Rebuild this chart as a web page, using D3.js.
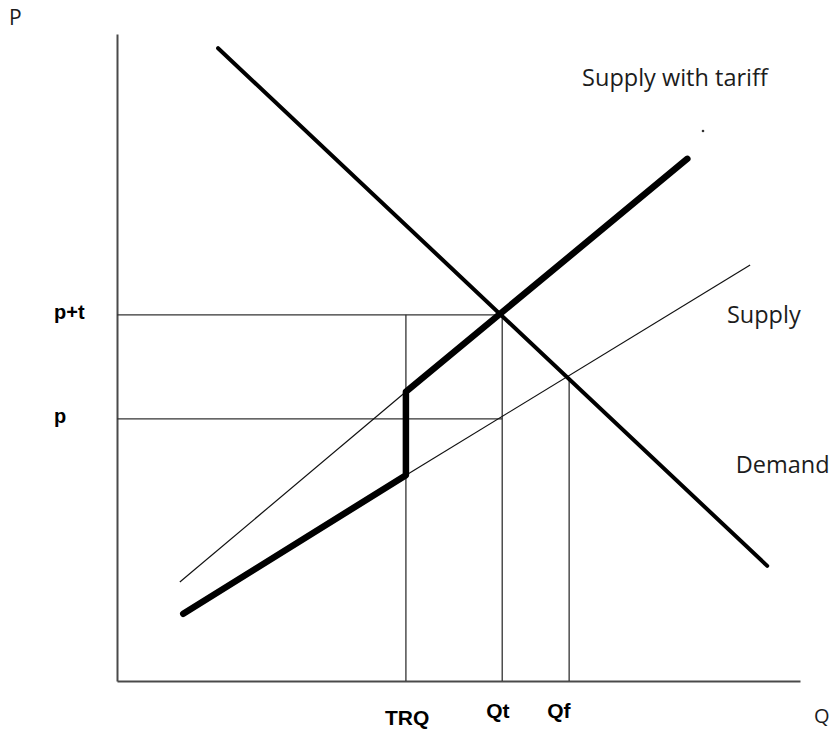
<!DOCTYPE html>
<html>
<head>
<meta charset="utf-8">
<script src="https://cdn.jsdelivr.net/npm/d3@7"></script>
<style>
    body { margin: 0; background: #fff; }
    svg { display: block; }
</style>
</head>
<body>
<svg id="chart" width="835" height="730"></svg>
<script>
// Values, both axes on a 0-100 scale
const qLabels = ["TRQ", "Qt", "Qf"];
const qValues = [42.3, 56.4, 66.2];
const pLabels = ["p+t", "p"];
const pValues = [56.6, 40.5];

const demandQ = [14.8, 95.2];
const demandP = [97.8, 17.8];
const supplyQ = [42.3, 92.7];
const supplyP = [31.8, 64.3];
const tariffLineQ = [9.2, 42.3];
const tariffLineP = [15.3, 44.7];
const tariffSupplyQ = [9.7, 42.3, 42.3, 83.5];
const tariffSupplyP = [10.4, 31.8, 44.7, 80.7];
const qfPrice = 47.0;

const svg = d3.select("#chart");
const margin = { top: 34, right: 35, bottom: 49, left: 117 };
const width = 835 - margin.left - margin.right;
const height = 730 - margin.top - margin.bottom;

const x = d3.scaleLinear().domain([0, 100]).range([0, width]);
const y = d3.scaleLinear().domain([0, 100]).range([height, 0]);

const g = svg.append("g").attr("transform", `translate(${margin.left},${margin.top})`);

const zip = (qs, ps) => qs.map((q, i) => [q, ps[i]]);
const line = d3.line().x(d => x(d[0])).y(d => y(d[1]));

// axes: plain lines, labels drawn by hand below
g.append("g")
    .attr("transform", `translate(0,${height})`)
    .call(d3.axisBottom(x).tickValues([]).tickSizeOuter(0))
    .select(".domain").attr("stroke", "#4a4a4a").attr("stroke-width", 2);
g.append("g")
    .call(d3.axisLeft(y).tickValues([]).tickSizeOuter(0))
    .select(".domain").attr("stroke", "#4a4a4a").attr("stroke-width", 2);

// guide lines
const guides = g.append("g").attr("stroke", "#333").attr("stroke-width", 1.3).attr("fill", "none");
pValues.forEach(p => {
    guides.append("path").attr("d", line([[0, p], [qValues[1], p]]));
});
guides.append("path").attr("d", line([[qValues[0], 0], [qValues[0], pValues[0]]]));
guides.append("path").attr("d", line([[qValues[1], 0], [qValues[1], pValues[0]]]));
guides.append("path").attr("d", line([[qValues[2], 0], [qValues[2], qfPrice]]));

// thin supply curves
g.append("path")
    .attr("d", line(zip(supplyQ, supplyP)))
    .attr("fill", "none").attr("stroke", "#111").attr("stroke-width", 1.2);
g.append("path")
    .attr("d", line(zip(tariffLineQ, tariffLineP)))
    .attr("fill", "none").attr("stroke", "#111").attr("stroke-width", 1.2);

// demand
g.append("path")
    .attr("d", line(zip(demandQ, demandP)))
    .attr("fill", "none").attr("stroke", "#000").attr("stroke-width", 4)
    .attr("stroke-linecap", "round");

// supply with tariff (TRQ kink)
g.append("path")
    .attr("d", line(zip(tariffSupplyQ, tariffSupplyP)))
    .attr("fill", "none").attr("stroke", "#000").attr("stroke-width", 6.5)
    .attr("stroke-linecap", "round").attr("stroke-linejoin", "round");

// stray dot from the original drawing
g.append("circle").attr("cx", x(85.8)).attr("cy", y(85.0)).attr("r", 1.3).attr("fill", "#333");

// bold tick labels
const boldFont = "'Liberation Sans', Arial, sans-serif";
const qOffsets = [-21, -16, -22];
qLabels.forEach((t, i) => {
    g.append("text")
        .attr("x", x(qValues[i]) + qOffsets[i])
        .attr("y", height + (i === 0 ? 44 : 37))
        .attr("font-family", boldFont).attr("font-weight", "bold").attr("font-size", 21)
        .attr("fill", "#000")
        .text(t);
});
pLabels.forEach((t, i) => {
    g.append("text")
        .attr("x", -63)
        .attr("y", y(pValues[i]) + 4)
        .attr("font-family", boldFont).attr("font-weight", "bold").attr("font-size", 20)
        .attr("fill", "#000")
        .text(t);
});

// curve and axis names
const softFont = "'Open Sans', 'Noto Sans', sans-serif";
const names = [
    { text: "Supply with tariff", q: 68.1, p: 92.0 },
    { text: "Supply", q: 89.3, p: 55.3 },
    { text: "Demand", q: 90.6, p: 32.1 }
];
names.forEach(d => {
    g.append("text")
        .attr("x", x(d.q)).attr("y", y(d.p))
        .attr("font-family", softFont).attr("font-size", 23.5)
        .attr("fill", "#1c1c1c")
        .text(d.text);
});
svg.append("text").attr("x", 9).attr("y", 25)
    .attr("font-family", softFont).attr("font-size", 21).attr("fill", "#1c1c1c").text("P");
svg.append("text").attr("x", 814).attr("y", 723)
    .attr("font-family", softFont).attr("font-size", 20).attr("fill", "#1c1c1c").text("Q");
</script>
</body>
</html>
